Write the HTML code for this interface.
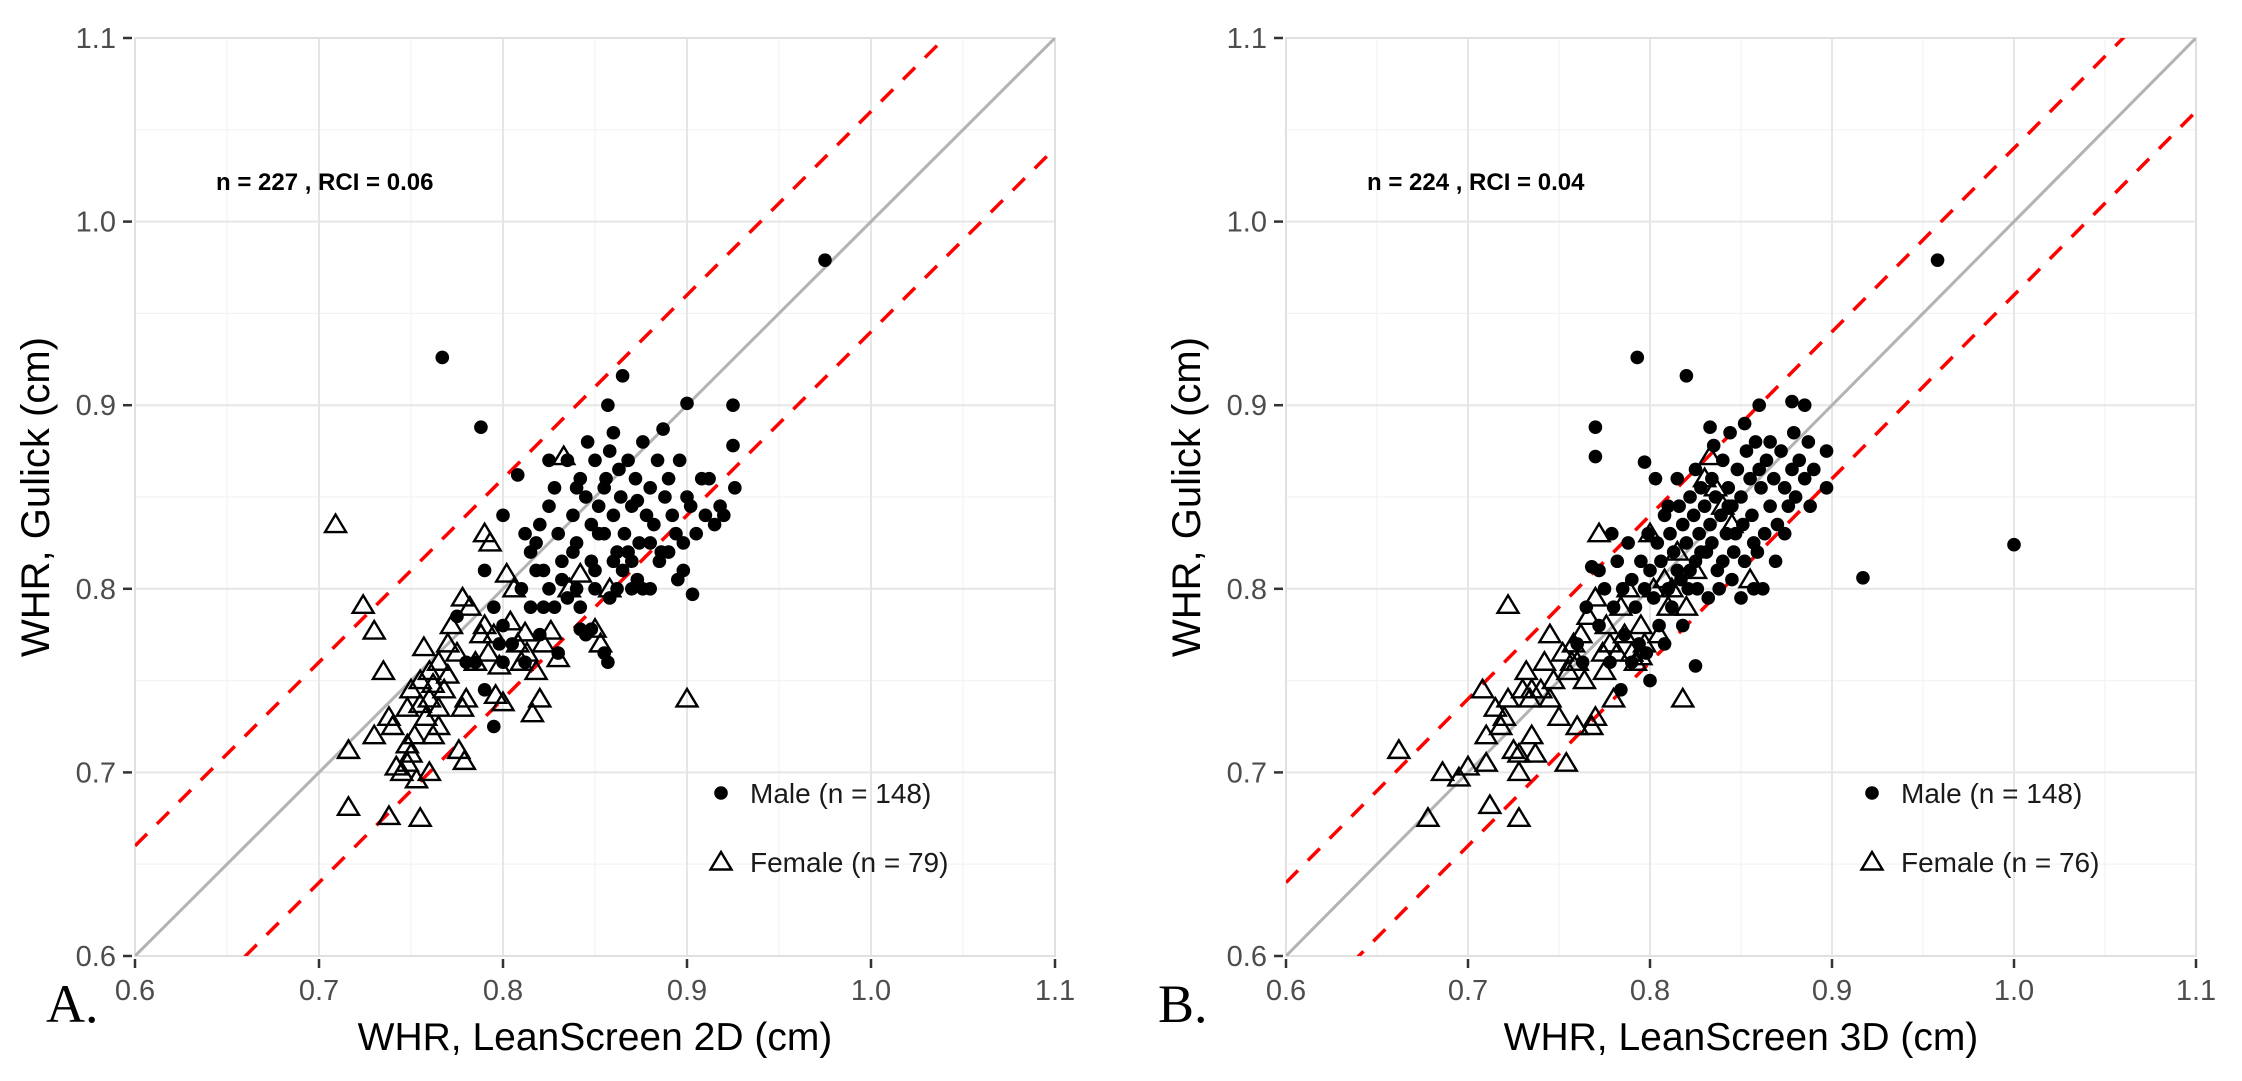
<!DOCTYPE html>
<html><head><meta charset="utf-8"><style>
html,body{margin:0;padding:0;background:#fff;}
svg{display:block;}
text{font-family:"Liberation Sans",sans-serif;}
</style></head><body>
<svg id="chart" width="2242" height="1081" viewBox="0 0 2242 1081" xmlns="http://www.w3.org/2000/svg"></svg>
<script>
const ticks = [0.6,0.7,0.8,0.9,1.0,1.1];
const tickLabels = ["0.6","0.7","0.8","0.9","1.0","1.1"];
const panelLabels = ["A.","B."];
const xTitles = ["WHR, LeanScreen 2D (cm)","WHR, LeanScreen 3D (cm)"];
const annotations = ["n = 227 , RCI = 0.06","n = 224 , RCI = 0.04"];
const rci = [0.06, 0.04];
const maleLegend = ["Male (n = 148)","Male (n = 148)"];
const femaleLegend = ["Female (n = 79)","Female (n = 76)"];

const maleA = [[0.767,0.926],[0.788,0.888],[0.975,0.979],[0.865,0.916],[0.857,0.900],[0.900,0.901],[0.925,0.900],[0.925,0.878],[0.926,0.855],[0.903,0.797],[0.880,0.800],[0.870,0.800],
[0.800,0.840],[0.808,0.862],[0.812,0.830],[0.815,0.820],[0.818,0.810],[0.820,0.835],[0.822,0.790],[0.825,0.845],[0.828,0.855],[0.830,0.830],[0.832,0.815],[0.835,0.870],[0.838,0.840],[0.840,0.825],[0.842,0.860],[0.845,0.850],[0.846,0.880],[0.848,0.835],[0.850,0.810],[0.850,0.870],[0.852,0.845],[0.855,0.830],[0.856,0.860],[0.858,0.875],[0.860,0.885],[0.860,0.840],[0.862,0.820],[0.864,0.850],[0.866,0.830],[0.868,0.870],[0.870,0.845],[0.872,0.860],[0.874,0.825],[0.876,0.880],[0.878,0.840],[0.880,0.855],[0.882,0.835],[0.884,0.870],[0.886,0.820],[0.888,0.850],[0.890,0.860],[0.892,0.840],[0.894,0.830],[0.896,0.870],[0.898,0.810],[0.900,0.850],[0.902,0.845],[0.905,0.830],[0.908,0.860],[0.910,0.840],[0.912,0.860],[0.915,0.835],[0.918,0.845],[0.920,0.840],
[0.800,0.780],[0.805,0.770],[0.810,0.800],[0.812,0.760],[0.815,0.790],[0.818,0.825],[0.820,0.775],[0.822,0.810],[0.825,0.800],[0.828,0.790],[0.830,0.765],[0.832,0.805],[0.835,0.795],[0.838,0.820],[0.840,0.800],[0.842,0.790],[0.845,0.775],[0.848,0.815],[0.850,0.800],[0.852,0.830],[0.855,0.765],[0.857,0.760],[0.858,0.795],[0.860,0.815],[0.862,0.800],[0.865,0.810],[0.868,0.820],[0.870,0.815],[0.873,0.805],[0.876,0.800],[0.880,0.825],[0.885,0.815],[0.890,0.820],[0.895,0.805],[0.898,0.825],[0.790,0.810],[0.795,0.790],[0.785,0.760],[0.790,0.745],[0.798,0.770],[0.780,0.760],[0.775,0.785],[0.795,0.725],[0.800,0.760],[0.842,0.778],[0.848,0.778],[0.825,0.870],[0.840,0.855],[0.855,0.855],[0.863,0.865],[0.873,0.848],[0.887,0.887]];

const femaleA = [[0.709,0.835],[0.724,0.791],[0.730,0.777],[0.716,0.712],[0.716,0.681],[0.738,0.676],[0.755,0.675],[0.735,0.755],[0.730,0.720],[0.740,0.725],[0.745,0.700],[0.748,0.705],[0.750,0.710],[0.752,0.720],[0.748,0.735],[0.750,0.745],[0.755,0.750],[0.757,0.768],[0.760,0.740],[0.758,0.730],[0.762,0.720],[0.765,0.725],[0.760,0.755],[0.765,0.760],[0.768,0.745],[0.770,0.770],[0.772,0.780],[0.775,0.765],[0.778,0.735],[0.780,0.740],[0.778,0.795],[0.782,0.790],[0.785,0.760],[0.788,0.775],[0.790,0.780],[0.792,0.765],[0.795,0.775],[0.790,0.830],[0.793,0.825],[0.798,0.758],[0.796,0.742],[0.800,0.738],[0.804,0.782],[0.806,0.800],[0.808,0.770],[0.810,0.760],[0.813,0.765],[0.818,0.755],[0.820,0.740],[0.816,0.732],[0.822,0.770],[0.826,0.777],[0.830,0.762],[0.833,0.872],[0.836,0.800],[0.842,0.808],[0.850,0.778],[0.853,0.770],[0.858,0.800],[0.900,0.740],[0.776,0.712],[0.779,0.706],[0.760,0.700],[0.753,0.696],[0.742,0.703],[0.765,0.735],[0.770,0.753],[0.762,0.748],[0.755,0.737],[0.748,0.715],[0.738,0.730],[0.812,0.776],[0.802,0.808]];

const maleB = [[0.793,0.926],[0.820,0.916],[0.958,0.979],[1.000,0.824],[0.917,0.806],[0.770,0.888],[0.770,0.872],[0.797,0.869],[0.860,0.900],[0.878,0.902],[0.885,0.900],[0.897,0.875],[0.897,0.855],[0.833,0.888],[0.825,0.758],
[0.760,0.770],[0.765,0.790],[0.768,0.812],[0.772,0.780],[0.775,0.800],[0.778,0.760],[0.780,0.790],[0.782,0.815],[0.785,0.800],[0.786,0.775],[0.788,0.825],[0.790,0.805],[0.792,0.790],[0.794,0.770],[0.795,0.815],[0.797,0.800],[0.799,0.830],[0.800,0.810],[0.802,0.795],[0.804,0.825],[0.806,0.815],[0.808,0.840],[0.810,0.800],[0.811,0.830],[0.813,0.820],[0.815,0.810],[0.816,0.845],[0.818,0.835],[0.820,0.825],[0.821,0.800],[0.822,0.850],[0.824,0.840],[0.825,0.815],[0.827,0.830],[0.828,0.855],[0.830,0.845],[0.831,0.820],[0.833,0.835],[0.834,0.860],[0.836,0.850],[0.837,0.810],[0.839,0.840],[0.840,0.870],[0.842,0.830],[0.843,0.855],[0.845,0.845],[0.846,0.820],[0.848,0.865],[0.850,0.850],[0.851,0.835],[0.853,0.875],[0.855,0.860],[0.856,0.840],[0.858,0.880],[0.859,0.820],[0.861,0.855],[0.862,0.800],[0.864,0.870],[0.866,0.845],[0.868,0.860],[0.870,0.835],[0.872,0.875],[0.874,0.855],[0.876,0.845],[0.878,0.865],[0.880,0.850],[0.882,0.870],[0.885,0.860],[0.888,0.845],[0.890,0.865],[0.826,0.800],[0.832,0.795],[0.838,0.800],[0.845,0.805],[0.812,0.790],[0.805,0.780],[0.818,0.780],[0.798,0.765],[0.790,0.760],[0.800,0.750],[0.784,0.745],[0.822,0.810],[0.828,0.820],[0.834,0.825],[0.840,0.815],[0.847,0.830],[0.852,0.815],[0.857,0.825],[0.863,0.830],[0.869,0.815],[0.874,0.830],[0.857,0.800],[0.850,0.795],[0.815,0.860],[0.825,0.865],[0.835,0.878],[0.844,0.885],[0.852,0.890],[0.810,0.845],[0.803,0.860],[0.779,0.830],[0.772,0.810],[0.763,0.760],[0.808,0.770],[0.817,0.805],[0.843,0.845],[0.866,0.880],[0.879,0.885],[0.860,0.865],[0.887,0.880]];

const femaleB = [[0.662,0.712],[0.678,0.675],[0.686,0.700],[0.695,0.697],[0.700,0.703],[0.708,0.745],[0.710,0.705],[0.710,0.720],[0.712,0.682],[0.715,0.735],[0.718,0.725],[0.720,0.730],[0.722,0.791],[0.725,0.712],[0.728,0.675],[0.728,0.700],[0.730,0.745],[0.732,0.755],[0.734,0.740],[0.735,0.720],[0.737,0.710],[0.740,0.745],[0.742,0.760],[0.745,0.775],[0.747,0.750],[0.750,0.730],[0.752,0.765],[0.754,0.705],[0.755,0.755],[0.758,0.770],[0.760,0.760],[0.762,0.775],[0.764,0.750],[0.766,0.785],[0.768,0.725],[0.770,0.795],[0.770,0.730],[0.772,0.830],[0.774,0.765],[0.776,0.780],[0.778,0.770],[0.780,0.740],[0.782,0.765],[0.784,0.790],[0.786,0.775],[0.788,0.800],[0.790,0.765],[0.792,0.760],[0.795,0.780],[0.797,0.770],[0.800,0.830],[0.802,0.800],[0.805,0.775],[0.808,0.805],[0.810,0.790],[0.812,0.800],[0.815,0.820],[0.818,0.740],[0.820,0.790],[0.825,0.810],[0.830,0.860],[0.833,0.872],[0.836,0.855],[0.840,0.845],[0.845,0.835],[0.855,0.805],[0.760,0.725],[0.745,0.740],[0.735,0.745],[0.728,0.710],[0.722,0.740],[0.757,0.760],[0.775,0.755],[0.795,0.763]];

const NS = "http://www.w3.org/2000/svg";
const svg = document.getElementById('chart');
function mk(tag, attrs, parent){ const e=document.createElementNS(NS,tag); for(const k in attrs) e.setAttribute(k,attrs[k]); (parent||svg).appendChild(e); return e; }

const panels = [
  {x0:135, x1:1055, y0:956, y1:38, males:maleA, females:femaleA, labelX:46},
  {x0:1286, x1:2196, y0:956, y1:38, males:maleB, females:femaleB, labelX:1158}
];
const DMIN=0.6, DMAX=1.1;

panels.forEach((p,pi)=>{
  const sx = v => p.x0 + (v-DMIN)/(DMAX-DMIN)*(p.x1-p.x0);
  const sy = v => p.y0 - (v-DMIN)/(DMAX-DMIN)*(p.y0-p.y1);
  const g = mk('g',{});
  
  
  const cp = mk('clipPath',{id:'clip'+pi},g);
  mk('rect',{x:p.x0,y:p.y1,width:p.x1-p.x0,height:p.y0-p.y1},cp);
  for(let i=0;i<ticks.length-1;i++){
    const m=(ticks[i]+ticks[i+1])/2;
    const l1=mk('line',{x1:sx(m),x2:sx(m),y1:p.y1,y2:p.y0,stroke:'#f3f3f3','stroke-width':1.2},g);
     
    const l2=mk('line',{x1:p.x0,x2:p.x1,y1:sy(m),y2:sy(m),stroke:'#f3f3f3','stroke-width':1.2},g);
     
  }
  ticks.forEach((t,i)=>{
    const gx=mk('line',{x1:sx(t),x2:sx(t),y1:p.y1,y2:p.y0,stroke:'#e6e6e6','stroke-width':2},g);
     
    const gy=mk('line',{x1:p.x0,x2:p.x1,y1:sy(t),y2:sy(t),stroke:'#e6e6e6','stroke-width':2},g);
     
    const tx=mk('line',{x1:sx(t),x2:sx(t),y1:p.y0+3,y2:p.y0+12,stroke:'#333','stroke-width':2.5},g);
     
    const ty=mk('line',{x1:p.x0-12,x2:p.x0-3,y1:sy(t),y2:sy(t),stroke:'#333','stroke-width':2.5},g);
     
    const xl=mk('text',{x:sx(t),y:p.y0+44,'text-anchor':'middle','font-size':29,fill:'#4d4d4d'},g);
    xl.textContent=tickLabels[i];
     
    const yl=mk('text',{x:p.x0-19,y:sy(t)+10,'text-anchor':'end','font-size':29,fill:'#4d4d4d'},g);
    yl.textContent=tickLabels[i];
     
  });
  const border=mk('rect',{x:p.x0,y:p.y1,width:p.x1-p.x0,height:p.y0-p.y1,fill:'none',stroke:'#e0e0e0','stroke-width':2},g);
   

  const lines = mk('g',{'clip-path':'url(#clip'+pi+')'},g);
  const idl=mk('line',{x1:sx(DMIN),y1:sy(DMIN),x2:sx(DMAX),y2:sy(DMAX),stroke:'#b3b3b3','stroke-width':3},lines);
   
  [rci[pi],-rci[pi]].forEach((o,k)=>{
    const rl=mk('line',{x1:sx(DMIN),y1:sy(DMIN+o),x2:sx(DMAX),y2:sy(DMAX+o),stroke:'#ff0000','stroke-width':3.5,'stroke-dasharray':'17 14'},lines);
     
  });

  p.males.forEach(d=>{
    const c=mk('circle',{cx:sx(d[0]),cy:sy(d[1]),r:6.8,fill:'#000'},lines);
     
  });
  const tri=(cx,cy,parent)=>mk('polygon',{points:`${cx},${cy-10} ${cx-10.5},${cy+7.5} ${cx+10.5},${cy+7.5}`,fill:'none',stroke:'#000','stroke-width':2.4},parent);
  p.females.forEach(d=>{
    const t=tri(sx(d[0]),sy(d[1]),lines);
     
  });

  const an=mk('text',{x:p.x0+81,y:190,'font-size':24,'font-weight':'bold',fill:'#000'},g);
  an.textContent=annotations[pi];
   

  const lx = p.x0 + 586;
  const lm=mk('circle',{cx:lx,cy:793,r:6.8,fill:'#000'},g);
   
  const lmt=mk('text',{x:lx+29,y:803,'font-size':28,fill:'#1a1a1a'},g);
  lmt.textContent=maleLegend[pi];
   
  const lf=tri(lx,862,g);
   
  const lft=mk('text',{x:lx+29,y:872,'font-size':28,fill:'#1a1a1a'},g);
  lft.textContent=femaleLegend[pi];
   

  const xt=mk('text',{x:(p.x0+p.x1)/2,y:1050,'text-anchor':'middle','font-size':39,fill:'#000'},g);
  xt.textContent=xTitles[pi];
   
  const ycx=p.x0-86, ycy=(p.y0+p.y1)/2;
  const yt=mk('text',{x:ycx,y:ycy,'text-anchor':'middle','font-size':40,fill:'#000',transform:`rotate(-90 ${ycx} ${ycy})`},g);
  yt.textContent='WHR, Gulick (cm)';
   

  const pl=mk('text',{x:p.labelX,y:1022,'font-size':54,fill:'#000',style:'font-family:"Liberation Serif",serif'},g);
  pl.textContent=panelLabels[pi];
   
});
</script>
</body></html>
